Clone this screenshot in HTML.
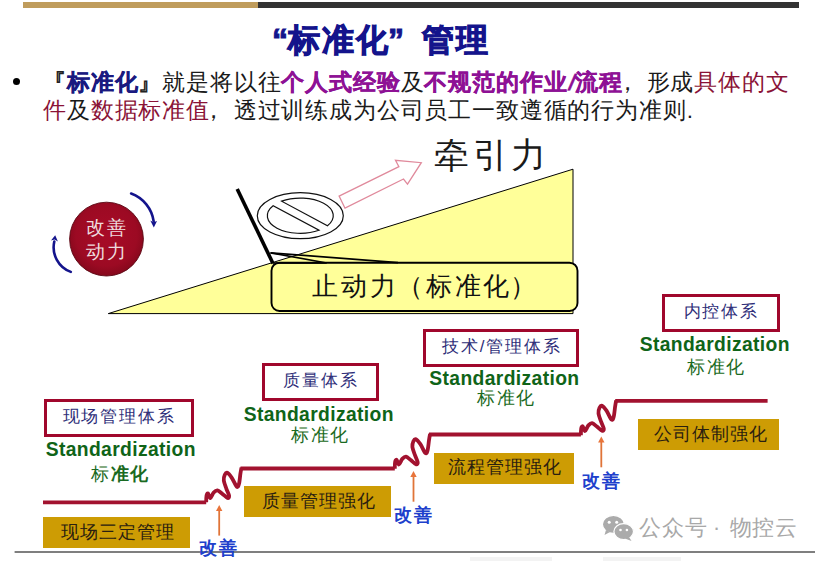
<!DOCTYPE html>
<html><head><meta charset="utf-8">
<style>
html,body{margin:0;padding:0;background:#fff;}
body{width:824px;height:561px;position:relative;overflow:hidden;font-family:"Liberation Sans",sans-serif;color:#000;}
.a{position:absolute;white-space:nowrap;line-height:1;}
#bar1{position:absolute;left:23px;top:2px;width:235px;height:6px;background:#bf9c5c;}
#bar2{position:absolute;left:258px;top:2px;width:541px;height:6px;background:#333;}
.t{font-size:32px;font-weight:bold;color:#14148c;letter-spacing:1.9px;-webkit-text-stroke:1px #14148c;}
.l{font-size:22.5px;letter-spacing:0.84px;color:#1a1a1a;}
.b{font-weight:bold;}
.nv{color:#1a1a80;-webkit-text-stroke:0.3px #1a1a80;}
.pu{color:#8e1195;-webkit-text-stroke:0.3px #8e1195;}
.dr{color:#8a1236;}
.bt{font-size:17px;letter-spacing:1.9px;color:#2e2e78;}
.gt{font-size:17.5px;letter-spacing:1.2px;color:#2a2010;}
.std{font-size:19.3px;letter-spacing:0.37px;font-weight:bold;color:#0f6418;}
.bz{font-size:17.5px;letter-spacing:1.6px;color:#1a6a22;}
.gs{font-size:17.5px;letter-spacing:1.6px;font-weight:bold;color:#2040cc;}
</style></head><body>
<div id="bar1"></div><div id="bar2"></div>

<!-- title -->
<div class="a t" style="left:272px;top:24px;">“</div>
<div class="a t" style="left:288px;top:24px;">标准化</div>
<div class="a t" style="left:388px;top:24px;">”</div>
<div class="a t" style="left:422px;top:24px;">管理</div>

<!-- body text -->
<div class="a" style="left:13px;top:78.2px;width:7px;height:7px;border-radius:50%;background:#000;"></div>
<div class="a l" style="left:43px;top:72px;"><span class="b" style="color:#222">『</span><span class="b nv">标准化</span><span class="b" style="color:#222">』</span>就是将以往<span class="b pu">个人式经验</span>及<span class="b pu">不规范的作业<span style="display:inline-block;transform:skewX(-14deg);margin:0 -0.5px 0 1px">/</span>流程</span><span style="position:relative;left:-7px">，</span>形成<span class="dr">具体的文</span></div>
<div class="a l" style="left:43px;top:100px;"><span class="dr">件</span>及<span class="dr">数据标准值</span><span style="position:relative;left:-8px">，</span>透过训练成为公司员工一致遵循的行为准则.</div>

<svg width="824" height="561" style="position:absolute;left:0;top:0;">
<defs>
<radialGradient id="rg" cx="50%" cy="45%" r="55%">
<stop offset="0" stop-color="#a80b27"/><stop offset="0.75" stop-color="#9c0a23"/><stop offset="1" stop-color="#85081c"/>
</radialGradient>
</defs>
<!-- triangle -->
<polygon points="108.3,313.6 573,169.2 573,313.6" fill="#ffff99" stroke="#000" stroke-width="1"/>
<!-- box stop -->
<rect x="271.5" y="262.7" width="306" height="48.3" rx="8" ry="8" fill="#ffff99" stroke="#000" stroke-width="1.9"/>
<!-- stick -->
<line x1="237.2" y1="189" x2="273" y2="263.5" stroke="#000" stroke-width="3.6"/>
<!-- wedge -->
<path d="M270.5,252.8 L326.7,263 L273,263" fill="none" stroke="#000" stroke-width="1.7"/>
<path d="M270.5,252.8 L398,262.6" fill="none" stroke="#000" stroke-width="1.7"/>
<!-- no sign -->
<g fill="#fff" stroke="#111" stroke-width="1.2">
<ellipse cx="300.3" cy="215.7" rx="43" ry="23"/>
<path d="M281.6,201.16 A33,17.65 0 0 1 327.48,225.7 Z"/>
<path d="M319,230.24 A33,17.65 0 0 1 273.12,205.7 Z"/>
</g>
<!-- pink arrow -->
<path d="M339.1,196.1 L398.9,166.7 L395.5,160.3 L421.3,162.7 L407.5,184.1 L403.5,179 L345,208.2 Z" fill="#fff" stroke="#e08a9c" stroke-width="1.3" stroke-linejoin="miter"/>
<!-- circle -->
<circle cx="106.5" cy="239.1" r="36.9" fill="url(#rg)" stroke="#5a0612" stroke-width="0.9"/>
<!-- blue arcs -->
<g fill="none" stroke="#14148c" stroke-width="2.6" stroke-linecap="round">
<path d="M131.1,193.5 A34.7,34.7 0 0 1 153.7,221.5"/>
<path d="M70.8,271.9 A26.2,26.2 0 0 1 54.3,241.5"/>
</g>
<g fill="#14148c">
<path d="M153.8,227.4 L150.3,220.6 L153.4,222.2 L157,220.9 Z"/>
<path d="M55.2,235.3 L51,240.6 L54.6,239.6 L57.9,241.6 Z"/>
</g>
<!-- steps -->
<g fill="none" stroke="#a2122f" stroke-width="3.8" stroke-linejoin="round">
<path d="M43,502.3 H206.2"/>
<path d="M240.5,468.5 H394.8"/>
<path d="M429,434.5 H580.9"/>
<path d="M615.2,400.8 H767.6"/>
<path transform="translate(206.2,502.3)" d="M0.0,0.0 C0.0,-1.1 0.0,-5.0 0.3,-6.5 C0.6,-8.0 1.2,-9.3 1.8,-8.9 C2.4,-8.5 3.1,-4.0 4.1,-4.2 C5.0,-4.4 6.3,-8.5 7.5,-9.8 C8.7,-11.1 9.8,-12.2 11.2,-12.0 C12.6,-11.8 14.3,-9.9 16.0,-8.6 C17.7,-7.3 20.2,-4.8 21.3,-4.4 C22.4,-4.1 23.1,-5.0 22.9,-6.5 C22.7,-8.0 21.1,-10.9 20.2,-13.5 C19.3,-16.1 17.9,-19.5 17.6,-21.8 C17.3,-24.1 18.0,-26.2 18.6,-27.5 C19.2,-28.8 20.0,-30.0 21.2,-29.5 C22.4,-29.0 24.0,-26.8 25.6,-24.5 C27.2,-22.2 29.4,-16.6 30.6,-15.6 C31.8,-14.6 32.2,-16.4 32.8,-18.5 C33.4,-20.6 33.8,-25.8 34.2,-28.5 C34.6,-31.2 35.1,-33.8 35.3,-34.8"/>
<path transform="translate(394.8,468.7)" d="M0.0,0.0 C0.0,-1.1 0.0,-5.0 0.3,-6.5 C0.6,-8.0 1.2,-9.3 1.8,-8.9 C2.4,-8.5 3.1,-4.0 4.1,-4.2 C5.0,-4.4 6.3,-8.5 7.5,-9.8 C8.7,-11.1 9.8,-12.2 11.2,-12.0 C12.6,-11.8 14.3,-9.9 16.0,-8.6 C17.7,-7.3 20.2,-4.8 21.3,-4.4 C22.4,-4.1 23.1,-5.0 22.9,-6.5 C22.7,-8.0 21.1,-10.9 20.2,-13.5 C19.3,-16.1 17.9,-19.5 17.6,-21.8 C17.3,-24.1 18.0,-26.2 18.6,-27.5 C19.2,-28.8 20.0,-30.0 21.2,-29.5 C22.4,-29.0 24.0,-26.8 25.6,-24.5 C27.2,-22.2 29.4,-16.6 30.6,-15.6 C31.8,-14.6 32.2,-16.4 32.8,-18.5 C33.4,-20.6 33.8,-25.8 34.2,-28.5 C34.6,-31.2 35.1,-33.8 35.3,-34.8"/>
<path transform="translate(580.9,435.2)" d="M0.0,0.0 C0.0,-1.1 0.0,-5.0 0.3,-6.5 C0.6,-8.0 1.2,-9.3 1.8,-8.9 C2.4,-8.5 3.1,-4.0 4.1,-4.2 C5.0,-4.4 6.3,-8.5 7.5,-9.8 C8.7,-11.1 9.8,-12.2 11.2,-12.0 C12.6,-11.8 14.3,-9.9 16.0,-8.6 C17.7,-7.3 20.2,-4.8 21.3,-4.4 C22.4,-4.1 23.1,-5.0 22.9,-6.5 C22.7,-8.0 21.1,-10.9 20.2,-13.5 C19.3,-16.1 17.9,-19.5 17.6,-21.8 C17.3,-24.1 18.0,-26.2 18.6,-27.5 C19.2,-28.8 20.0,-30.0 21.2,-29.5 C22.4,-29.0 24.0,-26.8 25.6,-24.5 C27.2,-22.2 29.4,-16.6 30.6,-15.6 C31.8,-14.6 32.2,-16.4 32.8,-18.5 C33.4,-20.6 33.8,-25.8 34.2,-28.5 C34.6,-31.2 35.1,-33.8 35.3,-34.8"/>
</g>
<!-- orange arrows -->
<g stroke="#e07438" stroke-width="1.8" fill="none">
<line x1="219.2" y1="510" x2="219.2" y2="535.6"/>
<line x1="413.5" y1="476" x2="413.5" y2="501.7"/>
<line x1="601.3" y1="441.5" x2="601.3" y2="467.3"/>
</g>
<g fill="#e8743a">
<path d="M219.2,505 L222.4,511 L216,511 Z"/>
<path d="M413.5,471 L416.7,477 L410.3,477 Z"/>
<path d="M601.3,436.6 L604.5,442.6 L598.1,442.6 Z"/>
</g>
<!-- bottom line -->
<line x1="14.6" y1="552" x2="815" y2="552" stroke="#555" stroke-width="1.6"/>
<!-- wechat icon -->
<g fill="#ababab" stroke="#fff" stroke-width="1.2">
<ellipse cx="613.4" cy="524.3" rx="11" ry="9"/>
<path d="M606,530 L604.5,535 L610,532 Z" stroke="none"/>
<ellipse cx="623.7" cy="531.6" rx="9.8" ry="8"/>
<path d="M629,537 L631.5,541 L625,538.5 Z" stroke="none"/>
</g>
<g fill="#fff">
<circle cx="609.2" cy="522.2" r="1.5"/><circle cx="616.7" cy="522.2" r="1.5"/>
<circle cx="620.5" cy="530" r="1.3"/><circle cx="626.9" cy="530" r="1.3"/>
</g>
</svg>

<!-- diagram texts -->
<div class="a" style="left:434px;top:137px;font-size:35px;letter-spacing:3.5px;color:#1a1a1a;">牵引力</div>
<div class="a" style="left:312px;top:273px;font-size:26px;letter-spacing:2.9px;color:#111;">止动力<span style="margin-left:-2px">（标准化</span><span style="margin-left:-2px">）</span></div>
<div class="a" style="left:86px;top:218px;font-size:19px;letter-spacing:1.6px;color:#eedadd;">改善</div>
<div class="a" style="left:86px;top:242px;font-size:19px;letter-spacing:1.6px;color:#eedadd;">动力</div>

<!-- boxes -->
<div class="a" style="left:43.7px;top:398.7px;width:150.2px;height:38.3px;box-sizing:border-box;border:3.8px solid #a0072c;background:#fff;"></div>
<div class="a" style="left:261.8px;top:363.2px;width:117.2px;height:37.6px;box-sizing:border-box;border:3.8px solid #a0072c;background:#fff;"></div>
<div class="a" style="left:422.6px;top:328.7px;width:156.7px;height:38.3px;box-sizing:border-box;border:3.8px solid #a0072c;background:#fff;"></div>
<div class="a" style="left:662px;top:294.3px;width:117.6px;height:37.7px;box-sizing:border-box;border:3.8px solid #a0072c;background:#fff;"></div>

<div class="a bt" style="left:62.5px;top:408px;">现场管理体系</div>
<div class="a bt" style="left:283px;top:372px;">质量体系</div>
<div class="a bt" style="left:442px;top:338px;">技术/管理体系</div>
<div class="a bt" style="left:683.5px;top:303px;">内控体系</div>

<div class="a std" style="left:45.7px;top:440px;">Standardization</div>
<div class="a std" style="left:243.7px;top:404.6px;">Standardization</div>
<div class="a std" style="left:429.3px;top:369px;">Standardization</div>
<div class="a std" style="left:639.7px;top:335px;">Standardization</div>

<div class="a bz" style="left:91px;top:466px;">标<b>准化</b></div>
<div class="a bz" style="left:291px;top:427px;">标准化</div>
<div class="a bz" style="left:477px;top:390px;">标准化</div>
<div class="a bz" style="left:687px;top:359px;">标准化</div>

<!-- gold boxes -->
<div class="a" style="left:43.3px;top:516.8px;width:146.4px;height:31px;background:#cd9c04;"></div>
<div class="a" style="left:243.7px;top:486px;width:147.1px;height:30.5px;background:#cd9c04;"></div>
<div class="a" style="left:433.6px;top:453.2px;width:140.4px;height:30.6px;background:#cd9c04;"></div>
<div class="a" style="left:638.4px;top:418.5px;width:140.9px;height:31.3px;background:#cd9c04;"></div>
<div class="a gt" style="left:60.5px;top:524px;">现场三定管理</div>
<div class="a gt" style="left:261.5px;top:493px;">质量管理强化</div>
<div class="a gt" style="left:447.5px;top:459px;">流程管理强化</div>
<div class="a gt" style="left:653.5px;top:425.5px;">公司体制强化</div>

<!-- kaizen labels -->
<div class="a gs" style="left:199px;top:540px;">改善</div>
<div class="a gs" style="left:394px;top:507px;">改善</div>
<div class="a gs" style="left:582px;top:473px;">改善</div>

<!-- watermark -->
<div class="a" style="left:639px;top:518.3px;font-size:21.5px;letter-spacing:0.8px;color:#a8a8a8;">公众号</div>
<div class="a" style="left:713px;top:518.3px;font-size:21.5px;color:#a8a8a8;">·</div>
<div class="a" style="left:729.5px;top:518.3px;font-size:21.5px;letter-spacing:0.8px;color:#a8a8a8;">物控云</div>
<div class="a" style="left:470px;top:557px;width:82px;height:4px;background:#f3f3f3;"></div>
<div class="a" style="left:603px;top:557px;width:78px;height:4px;background:#f3f3f3;"></div>
</body></html>
